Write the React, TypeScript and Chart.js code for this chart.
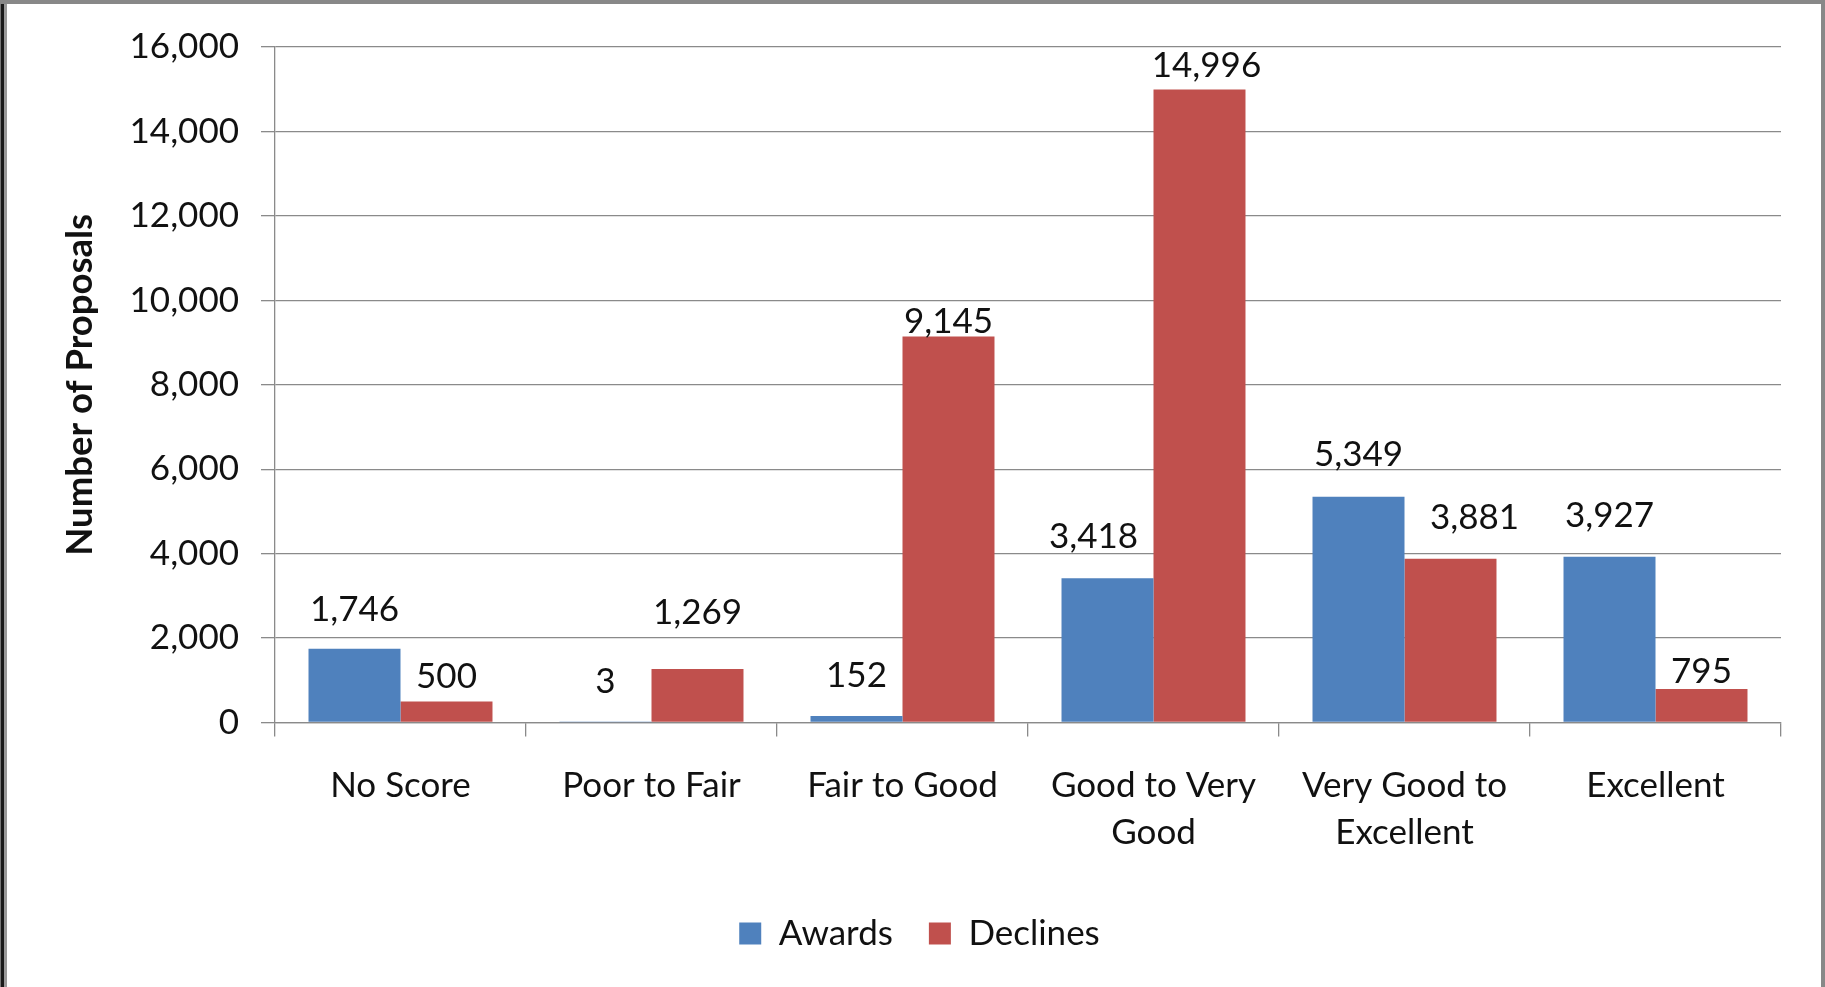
import { useEffect, useRef } from 'react';
import { Chart, registerables } from 'chart.js';

Chart.register(...registerables);

// ---- data ----
const categories: (string | string[])[] = [
  'No Score',
  'Poor to Fair',
  'Fair to Good',
  ['Good to Very', 'Good'],
  ['Very Good to', 'Excellent'],
  'Excellent',
];
const seriesNames = ['Awards', 'Declines'];
const awards = [1746, 3, 152, 3418, 5349, 3927];
const declines = [500, 1269, 9145, 14996, 3881, 795];
const yMin = 0;
const yMax = 16000;
const yStep = 2000;
const yTitle = 'Number of Proposals';

// ---- style ----
const W = 1825;
const H = 987;
const FONT = 'Lato, "Noto Sans", sans-serif';
const TEXT = '#111111';
const GRID = '#8a8a8a';
const colors = ['#4F81BD', '#C0504D'];
// label placement tweaks (pixels above bar top / horizontal shift), per series
const labelLift = [
  [39, 41, 40, 41, 42, 41],
  [25, 56, 15, 24, 41, 17],
];
const labelShift = [
  [0, 0, 0, -14, 0, 0],
  [0, 0, 0, 7, 24, 0],
];

const valueLabels = {
  id: 'valueLabels',
  afterDatasetsDraw(chart: any) {
    const ctx = chart.ctx;
    ctx.save();
    ctx.font = `35px ${FONT}`;
    ctx.fillStyle = TEXT;
    ctx.textAlign = 'center';
    ctx.textBaseline = 'middle';
    chart.data.datasets.forEach((ds: any, di: number) => {
      const meta = chart.getDatasetMeta(di);
      meta.data.forEach((bar: any, i: number) => {
        const v = ds.data[i] as number;
        ctx.fillText(
          v.toLocaleString('en-US'),
          bar.x + labelShift[di][i],
          bar.y - labelLift[di][i]
        );
      });
    });
    ctx.restore();
  },
};

export default function App() {
  const ref = useRef<HTMLCanvasElement | null>(null);

  useEffect(() => {
    let chart: Chart | null = null;
    let cancelled = false;
    const fontsReady = Promise.all([
      document.fonts.load(`35px Lato`),
      document.fonts.load(`bold 36px Lato`),
    ]).catch(() => null);
    fontsReady.then(() => {
      if (cancelled || !ref.current) return;
      chart = new Chart(ref.current, {
        type: 'bar',
        data: {
          labels: categories as any,
          datasets: [
            {
              label: seriesNames[0],
              data: awards,
              backgroundColor: colors[0],
              borderWidth: 0,
              categoryPercentage: 0.733,
              barPercentage: 1.0,
            },
            {
              label: seriesNames[1],
              data: declines,
              backgroundColor: colors[1],
              borderWidth: 0,
              categoryPercentage: 0.733,
              barPercentage: 1.0,
            },
          ],
        },
        options: {
          responsive: false,
          animation: false,
          devicePixelRatio: 1,
          layout: {
            padding: { left: 58, right: 44, top: 47, bottom: 26 },
          },
          plugins: {
            tooltip: { enabled: false },
            legend: {
              position: 'bottom',
              labels: {
                font: { family: FONT, size: 35 },
                color: TEXT,
                boxWidth: 22,
                boxHeight: 22,
                padding: 36,
              },
            },
          },
          scales: {
            x: {
              grid: {
                drawOnChartArea: false,
                drawTicks: true,
                tickLength: 14,
                color: GRID,
                lineWidth: 1.3,
                offset: true,
              },
              border: { display: true, color: GRID, width: 1.3 },
              ticks: {
                font: { family: FONT, size: 35, lineHeight: 1.33 },
                color: TEXT,
                padding: 26,
                maxRotation: 0,
                autoSkip: false,
              },
              afterFit: (s: any) => {
                s.height = 157.5;
              },
            },
            y: {
              min: yMin,
              max: yMax,
              ticks: {
                stepSize: yStep,
                font: { family: FONT, size: 35 },
                color: TEXT,
                padding: 22,
                callback: (v: any) => Number(v).toLocaleString('en-US'),
              },
              grid: {
                color: GRID,
                lineWidth: 1.3,
                tickLength: 14,
                drawTicks: true,
              },
              border: { display: true, color: GRID, width: 1.3 },
              title: {
                display: true,
                text: yTitle,
                font: { family: FONT, size: 36.5, weight: 'bold' },
                color: TEXT,
                padding: 0,
              },
              afterFit: (s: any) => {
                s.width = 217;
              },
            },
          },
        },
        plugins: [valueLabels],
      });
    });
    return () => {
      cancelled = true;
      if (chart) chart.destroy();
    };
  }, []);

  return (
    <div
      style={{
        position: 'absolute',
        left: 0,
        top: 0,
        width: W,
        height: H,
        background: '#ffffff',
        overflow: 'hidden',
      }}
    >
      <canvas
        ref={ref}
        width={W}
        height={H}
        style={{ position: 'absolute', left: 0, top: 0, width: W, height: H }}
      />
      <div
        style={{
          position: 'absolute',
          left: 0,
          top: 0,
          width: W,
          height: H,
          boxSizing: 'border-box',
          borderTop: '4px solid #888888',
          borderRight: '4px solid #888888',
          boxShadow: 'inset 1px 0 0 #777777, inset 4px 0 0 #1a1a1a, inset 7px 0 0 #9a9a9a',
          pointerEvents: 'none',
        }}
      />
    </div>
  );
}
